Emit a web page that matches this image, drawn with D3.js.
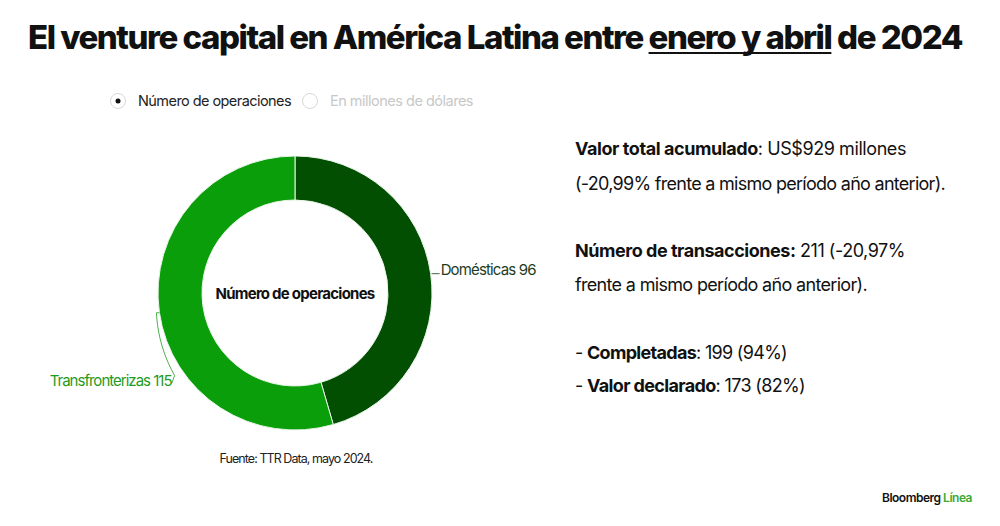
<!DOCTYPE html>
<html>
<head>
<meta charset="utf-8">
<script src="https://cdn.jsdelivr.net/npm/d3@7"></script>
<style>
  body { margin: 0; background: #fff; }
  svg text { font-family: Inter, "Open Sans", sans-serif; }
</style>
</head>
<body>
<div id="chart"></div>
<script>
// data
var categories = ["Domésticas", "Transfronterizas"];
var values = [96, 115];
var titleParts = ["El venture capital en América Latina entre ", "enero y abril", " de 2024"];
var legendItems = ["Número de operaciones", "En millones de dólares"];
var centerLabel = "Número de operaciones";
var source = "Fuente: TTR Data, mayo 2024.";
var notes = [
  [["Valor total acumulado", true], [": US$929 millones", false]],
  [["(-20,99% frente a mismo período año anterior).", false]],
  [["Número de transacciones:", true], [" 211 (-20,97%", false]],
  [["frente a mismo período año anterior).", false]],
  [["- ", false], ["Completadas", true], [": 199 (94%)", false]],
  [["- ", false], ["Valor declarado", true], [": 173 (82%)", false]]
];

var width = 1000;
var height = 526;
var cx = 295, cy = 293;
var outerR = 137, innerR = 93;
var sliceColors = ["#024f02", "#0a9e0a"];
var labelColors = ["#1d3d1d", "#1f9a1f"];

var svg = d3.select("#chart").append("svg")
  .attr("width", width)
  .attr("height", height);

// fit a text element to a target width by adjusting letter spacing
function fitWidth(node, target) {
  var w = node.getComputedTextLength();
  var n = node.textContent.length;
  d3.select(node).style("letter-spacing", ((target - w) / n) + "px");
}

/* Title */
var title = svg.append("text")
  .attr("x", 28)
  .attr("y", 49)
  .attr("font-size", 33)
  .attr("font-weight", 800)
  .attr("fill", "#111");
title.selectAll("tspan")
  .data(titleParts).enter()
  .append("tspan")
  .text(d => d);
fitWidth(title.node(), 934);

var startIdx = titleParts[0].length;
var endIdx = startIdx + titleParts[1].length - 1;
var uStart = title.node().getStartPositionOfChar(startIdx).x;
var uEnd = title.node().getEndPositionOfChar(endIdx).x;
svg.append("line")
  .attr("x1", uStart).attr("x2", uEnd)
  .attr("y1", 53).attr("y2", 53)
  .attr("stroke", "#111")
  .attr("stroke-width", 2);

/* Legend (radio buttons) */
var legend = svg.append("g");
var legendX = [118, 310];
legendItems.forEach(function(d, i) {
  legend.append("circle")
    .attr("cx", legendX[i]).attr("cy", 101).attr("r", 7.5)
    .attr("fill", "#fff")
    .attr("stroke", "#d8d8d8")
    .attr("stroke-width", 1);
  if (i === 0) {
    legend.append("circle")
      .attr("cx", legendX[i]).attr("cy", 101).attr("r", 2.5)
      .attr("fill", "#111");
  }
  var t = legend.append("text")
    .attr("x", legendX[i] + 20)
    .attr("y", 106)
    .attr("font-size", 14.5)
    .attr("fill", i === 0 ? "#222" : "#c8c8c8")
    .text(d);
  fitWidth(t.node(), i === 0 ? 153 : 143);
});

/* Donut */
var pie = d3.pie().sort(null).value(d => d);
var arcs = pie(values);
var arc = d3.arc().innerRadius(innerR).outerRadius(outerR);

var donut = svg.append("g")
  .attr("transform", `translate(${cx}, ${cy})`);

donut.selectAll("path")
  .data(arcs).enter()
  .append("path")
  .attr("d", arc)
  .attr("fill", (d, i) => sliceColors[i])
  .attr("stroke", "#e8f5e8")
  .attr("stroke-width", 1);

// Domésticas label: short horizontal leader at mid angle
var midD = (arcs[0].startAngle + arcs[0].endAngle) / 2;
var pD = d3.pointRadial(midD, outerR);
donut.append("line")
  .attr("x1", pD[0] + 1).attr("x2", pD[0] + 9)
  .attr("y1", pD[1]).attr("y2", pD[1])
  .attr("stroke", "#1d3d1d")
  .attr("stroke-width", 0.8);
var tD = donut.append("text")
  .attr("x", pD[0] + 10)
  .attr("y", pD[1] + 1)
  .attr("font-size", 15)
  .attr("fill", labelColors[0])
  .text(categories[0] + " " + values[0]);
fitWidth(tD.node(), 95);

// Transfronterizas label: bracket following the ring edge
var midT = (arcs[1].startAngle + arcs[1].endAngle) / 2;
var a1 = midT, a2 = midT - 0.46;
var bracketPts = d3.range(0, 1.0001, 0.1).map(function(f) {
  return d3.pointRadial(a1 + (a2 - a1) * f, outerR + 3 + 6 * f);
});
var b0 = bracketPts[0];
var bEnd = bracketPts[bracketPts.length - 1];
bracketPts.unshift([b0[0] + 3, b0[1]]);
bracketPts.push([bEnd[0] - 3, bEnd[1] + 8]);
donut.append("path")
  .attr("d", d3.line()(bracketPts))
  .attr("fill", "none")
  .attr("stroke", "#1f9a1f")
  .attr("stroke-width", 0.8);
var tT = donut.append("text")
  .attr("x", bEnd[0] - 3)
  .attr("y", bEnd[1] + 10)
  .attr("text-anchor", "end")
  .attr("font-size", 15)
  .attr("fill", labelColors[1])
  .text(categories[1] + " " + values[1]);
fitWidth(tT.node(), 122);

// center label
var tC = donut.append("text")
  .attr("x", 0).attr("y", 6)
  .attr("text-anchor", "middle")
  .attr("font-size", 15)
  .attr("font-weight", 700)
  .attr("fill", "#111")
  .text(centerLabel);
fitWidth(tC.node(), 159);

/* Source */
var tS = svg.append("text")
  .attr("x", 296).attr("y", 463)
  .attr("text-anchor", "middle")
  .attr("font-size", 12.5)
  .attr("fill", "#222")
  .text(source);
fitWidth(tS.node(), 153);

/* Right notes */
var noteY = [155, 190, 257, 291, 359, 392];
var noteW = [331, 370, 330, 292, 212, 230];
notes.forEach(function(line, i) {
  var t = svg.append("text")
    .attr("x", 575)
    .attr("y", noteY[i])
    .attr("font-size", 18)
    .attr("fill", "#111");
  line.forEach(function(p) {
    t.append("tspan")
      .attr("font-weight", p[1] ? 700 : 400)
      .text(p[0]);
  });
  fitWidth(t.node(), noteW[i]);
});

/* Brand */
var brand = svg.append("text")
  .attr("x", 882).attr("y", 502)
  .attr("font-size", 12)
  .attr("font-weight", 600);
brand.append("tspan").attr("fill", "#111").text("Bloomberg ");
brand.append("tspan").attr("fill", "#3aaa35").text("Línea");
fitWidth(brand.node(), 90);
</script>
</body>
</html>
